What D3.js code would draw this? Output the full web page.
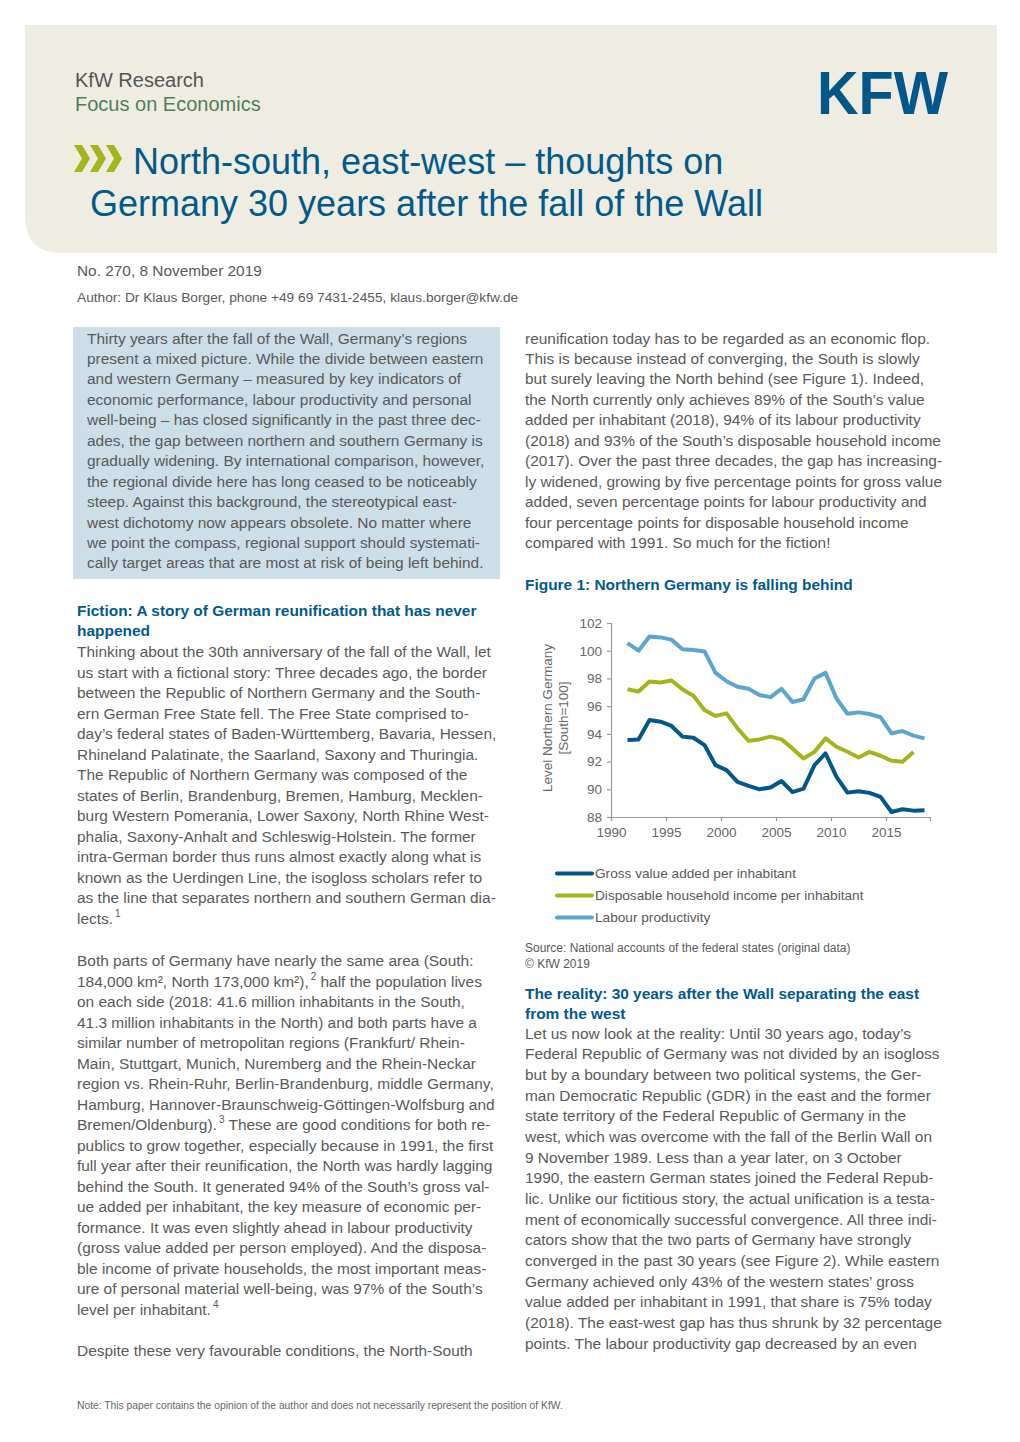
<!DOCTYPE html>
<html><head><meta charset="utf-8">
<script src="https://cdn.jsdelivr.net/npm/d3@7"></script>
<style>
html,body{margin:0;padding:0;background:#fff;}
svg{display:block;font-family:"Liberation Sans",Arial,sans-serif;}
</style></head>
<body>
<svg id="page" width="1020" height="1442"></svg>
<script>
// ---------- DATA ----------
const years = [1991,1992,1993,1994,1995,1996,1997,1998,1999,2000,2001,2002,2003,2004,2005,2006,2007,2008,2009,2010,2011,2012,2013,2014,2015,2016,2017,2018];
const gvaPerInhabitant = [93.55,93.6,95.0,94.88,94.57,93.8,93.72,93.19,91.74,91.38,90.53,90.25,90.0,90.13,90.6,89.8,90.05,91.74,92.59,90.9,89.76,89.86,89.74,89.45,88.36,88.56,88.46,88.48];
const disposableIncome = [97.22,97.05,97.78,97.7,97.85,97.22,96.74,95.72,95.29,95.48,94.4,93.5,93.6,93.8,93.6,92.95,92.22,92.7,93.67,93.07,92.71,92.3,92.7,92.42,92.06,91.98,92.7,null];
const labourProductivity = [100.55,100.0,101.03,100.96,100.8,100.1,100.05,99.95,98.4,97.8,97.4,97.25,96.8,96.65,97.25,96.3,96.5,98.0,98.4,96.55,95.45,95.55,95.43,95.2,94.04,94.2,93.87,93.67];
const seriesNames = ["Gross value added per inhabitant","Disposable household income per inhabitant","Labour productivity"];
const seriesColors = ["#00578a","#a4b51b","#5aa6cf"];
const yTicks = [88,90,92,94,96,98,100,102];
const xTicks = [1990,1995,2000,2005,2010,2015];

// ---------- TEXT ----------
const abstractLines = [
"Thirty years after the fall of the Wall, Germany’s regions",
"present a mixed picture. While the divide between eastern",
"and western Germany – measured by key indicators of",
"economic performance, labour productivity and personal",
"well-being – has closed significantly in the past three dec-",
"ades, the gap between northern and southern Germany is",
"gradually widening. By international comparison, however,",
"the regional divide here has long ceased to be noticeably",
"steep. Against this background, the stereotypical east-",
"west dichotomy now appears obsolete. No matter where",
"we point the compass, regional support should systemati-",
"cally target areas that are most at risk of being left behind."];
const rightTopLines = [
"reunification today has to be regarded as an economic flop.",
"This is because instead of converging, the South is slowly",
"but surely leaving the North behind (see Figure 1). Indeed,",
"the North currently only achieves 89% of the South’s value",
"added per inhabitant (2018), 94% of its labour productivity",
"(2018) and 93% of the South’s disposable household income",
"(2017). Over the past three decades, the gap has increasing-",
"ly widened, growing by five percentage points for gross value",
"added, seven percentage points for labour productivity and",
"four percentage points for disposable household income",
"compared with 1991. So much for the fiction!"];
const fictionHeading = ["Fiction: A story of German reunification that has never","happened"];
const fictionLines = [
"Thinking about the 30th anniversary of the fall of the Wall, let",
"us start with a fictional story: Three decades ago, the border",
"between the Republic of Northern Germany and the South-",
"ern German Free State fell. The Free State comprised to-",
"day’s federal states of Baden-Württemberg, Bavaria, Hessen,",
"Rhineland Palatinate, the Saarland, Saxony and Thuringia.",
"The Republic of Northern Germany was composed of the",
"states of Berlin, Brandenburg, Bremen, Hamburg, Mecklen-",
"burg Western Pomerania, Lower Saxony, North Rhine West-",
"phalia, Saxony-Anhalt and Schleswig-Holstein. The former",
"intra-German border thus runs almost exactly along what is",
"known as the Uerdingen Line, the isogloss scholars refer to",
"as the line that separates northern and southern German dia-",
"lects.^1"];
const bothLines = [
"Both parts of Germany have nearly the same area (South:",
"184,000 km², North 173,000 km²),^2 half the population lives",
"on each side (2018: 41.6 million inhabitants in the South,",
"41.3 million inhabitants in the North) and both parts have a",
"similar number of metropolitan regions (Frankfurt/ Rhein-",
"Main, Stuttgart, Munich, Nuremberg and the Rhein-Neckar",
"region vs. Rhein-Ruhr, Berlin-Brandenburg, middle Germany,",
"Hamburg, Hannover-Braunschweig-Göttingen-Wolfsburg and",
"Bremen/Oldenburg).^3 These are good conditions for both re-",
"publics to grow together, especially because in 1991, the first",
"full year after their reunification, the North was hardly lagging",
"behind the South. It generated 94% of the South’s gross val-",
"ue added per inhabitant, the key measure of economic per-",
"formance. It was even slightly ahead in labour productivity",
"(gross value added per person employed). And the disposa-",
"ble income of private households, the most important meas-",
"ure of personal material well-being, was 97% of the South’s",
"level per inhabitant.^4"];
const despiteLines = ["Despite these very favourable conditions, the North-South"];
const realityHeading = ["The reality: 30 years after the Wall separating the east","from the west"];
const realityLines = [
"Let us now look at the reality: Until 30 years ago, today’s",
"Federal Republic of Germany was not divided by an isogloss",
"but by a boundary between two political systems, the Ger-",
"man Democratic Republic (GDR) in the east and the former",
"state territory of the Federal Republic of Germany in the",
"west, which was overcome with the fall of the Berlin Wall on",
"9 November 1989. Less than a year later, on 3 October",
"1990, the eastern German states joined the Federal Repub-",
"lic. Unlike our fictitious story, the actual unification is a testa-",
"ment of economically successful convergence. All three indi-",
"cators show that the two parts of Germany have strongly",
"converged in the past 30 years (see Figure 2). While eastern",
"Germany achieved only 43% of the western states’ gross",
"value added per inhabitant in 1991, that share is 75% today",
"(2018). The east-west gap has thus shrunk by 32 percentage",
"points. The labour productivity gap decreased by an even"];

// ---------- PAGE ----------
const svg = d3.select("#page");
const BLUE = "#005a8c", GREY = "#595959";
const BODY = 15.45;

// header panel
svg.append("path")
  .attr("d", "M25,25 H997 V253 H62 Q25,253 25,216 Z")
  .attr("fill", "#efede2");
svg.append("text").attr("x",75).attr("y",87).attr("font-size",20).attr("fill","#555").text("KfW Research");
svg.append("text").attr("x",75).attr("y",111).attr("font-size",20).attr("fill","#4f7d5c").text("Focus on Economics");
svg.append("text").attr("x",817).attr("y",114).attr("font-size",61).attr("font-weight","bold")
  .attr("fill","#00578a").attr("textLength",131).attr("lengthAdjust","spacingAndGlyphs").text("KFW");
// chevrons
[0,1,2].forEach(i=>{
  const x0 = 74 + i*16;
  svg.append("path")
    .attr("d", `M${x0},145 L${x0+8},145 L${x0+16},158.5 L${x0+8},172 L${x0},172 L${x0+8},158.5 Z`)
    .attr("fill","#a4b51b");
});
svg.append("text").attr("x",133).attr("y",174).attr("font-size",36).attr("fill",BLUE).text("North-south, east-west – thoughts on");
svg.append("text").attr("x",90).attr("y",216).attr("font-size",36).attr("fill",BLUE).text("Germany 30 years after the fall of the Wall");

svg.append("text").attr("x",77).attr("y",276).attr("font-size",15.4).attr("fill",GREY).text("No. 270, 8 November 2019");
svg.append("text").attr("x",77).attr("y",302).attr("font-size",13.7).attr("fill",GREY).text("Author: Dr Klaus Borger, phone +49 69 7431-2455, klaus.borger@kfw.de");

// abstract box
svg.append("rect").attr("x",73).attr("y",327).attr("width",427).attr("height",252).attr("fill","#ccdee8");

function block(lines, x, y0, step, opts={}) {
  const g = svg.append("g");
  lines.forEach((ln,i)=>{
    const t = g.append("text").attr("x",x).attr("y",y0+i*step)
      .attr("font-size",opts.size||BODY).attr("fill",opts.color||GREY)
      .attr("font-weight",opts.bold?"bold":null);
    const parts = ln.split("^");
    t.append("tspan").text(parts[0]);
    if (parts.length>1) {
      const sup = parts[1].match(/^(\d)(.*)$/);
      t.append("tspan").attr("font-size",10).attr("dy",-7).attr("dx",2).text(sup[1]);
      if (sup[2]) t.append("tspan").attr("dy",7).text(sup[2]);
    }
  });
}
block(abstractLines, 87, 343.5, 20.45);
block(rightTopLines, 525, 343.5, 20.45);
svg.append("text").attr("x",525).attr("y",589.5).attr("font-size",BODY).attr("font-weight","bold").attr("fill",BLUE).text("Figure 1: Northern Germany is falling behind");
block(fictionHeading, 77, 616, 20.3, {bold:true,color:BLUE});
block(fictionLines, 77, 657, 20.5);
block(bothLines, 77, 966, 20.5);
block(despiteLines, 77, 1355.5, 20.5);
block(realityHeading, 525, 998.5, 20.3, {bold:true,color:BLUE});
block(realityLines, 525, 1038.5, 20.67);

svg.append("text").attr("x",77).attr("y",1409).attr("font-size",10.3).attr("fill","#666")
  .text("Note: This paper contains the opinion of the author and does not necessarily represent the position of KfW.");

// ---------- CHART ----------
const x = d3.scaleLinear().domain([1990, 2019]).range([611, 930]);
const y = d3.scaleLinear().domain([88, 102]).range([817, 623]);
const axisColor = "#9a9a9a", tickText = "#666";

const gy = svg.append("g").attr("transform","translate(611,0)")
  .call(d3.axisLeft(y).tickValues(yTicks).tickSize(4).tickPadding(5));
const gx = svg.append("g").attr("transform","translate(0,817)")
  .call(d3.axisBottom(x).tickValues(xTicks).tickFormat(d3.format("d")).tickSize(4).tickPadding(6));
[gx,gy].forEach(g=>{
  g.select(".domain").attr("stroke",axisColor).attr("stroke-width",1.2);
  g.selectAll(".tick line").attr("stroke",axisColor).attr("stroke-width",1.2);
  g.selectAll(".tick text").attr("fill",tickText).attr("font-size",13.5).attr("font-family","Liberation Sans, Arial, sans-serif");
});
// y axis title
const yt = svg.append("text").attr("transform","translate(547,718) rotate(-90)")
  .attr("text-anchor","middle").attr("font-size",13.5).attr("fill",tickText);
yt.append("tspan").attr("x",0).attr("dy","0.35em").text("Level Northern Germany");
yt.append("tspan").attr("x",0).attr("dy","1.2em").text("[South=100]");

const seriesData = [gvaPerInhabitant, disposableIncome, labourProductivity];
const line = d3.line()
  .defined(d=>d.v!=null)
  .x(d=>x(d.yr+0.5)).y(d=>y(d.v));
[2,1,0].forEach(si=>{
  const pts = years.map((yr,i)=>({yr, v: seriesData[si][i]}));
  svg.append("path").datum(pts).attr("d",line)
    .attr("fill","none").attr("stroke",seriesColors[si]).attr("stroke-width",4)
    .attr("stroke-linejoin","round");
});

// legend
const lg = svg.append("g");
seriesNames.forEach((nm,i)=>{
  const cy = 873.5 + i*22;
  lg.append("line").attr("x1",557).attr("x2",592).attr("y1",cy).attr("y2",cy)
    .attr("stroke",seriesColors[i]).attr("stroke-width",4).attr("stroke-linecap","round");
  lg.append("text").attr("x",595).attr("y",cy).attr("dy","0.35em").attr("font-size",13.65).attr("fill",GREY).text(nm);
});
svg.append("text").attr("x",525).attr("y",952).attr("font-size",12).attr("fill",GREY).text("Source: National accounts of the federal states (original data)");
svg.append("text").attr("x",525).attr("y",968).attr("font-size",12).attr("fill",GREY).text("© KfW 2019");
</script>
</body></html>
